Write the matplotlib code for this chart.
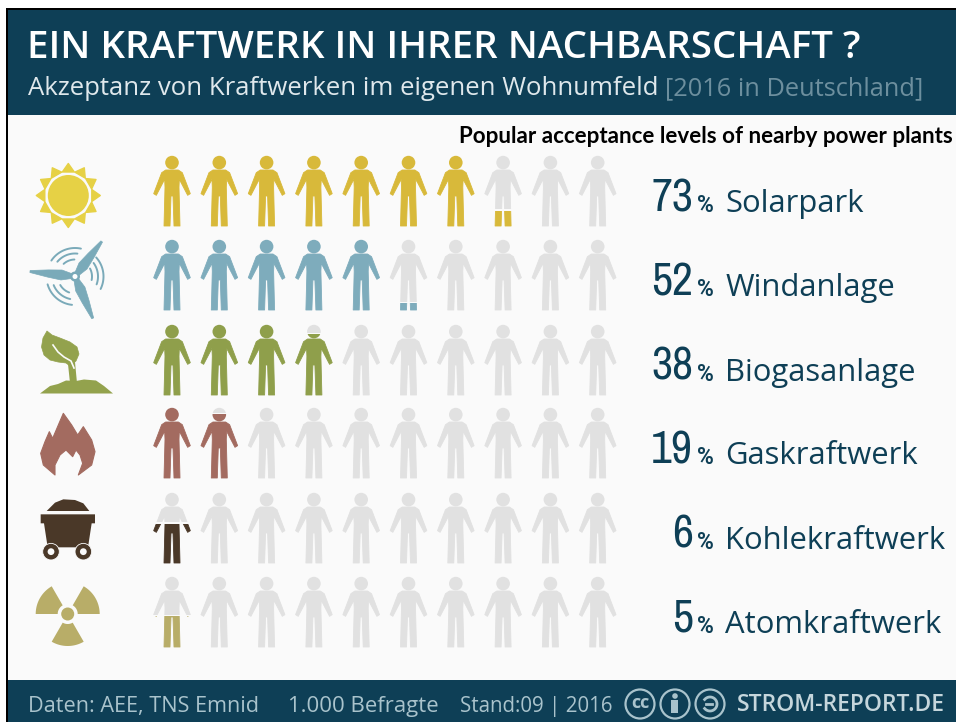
import numpy as np
import matplotlib
matplotlib.use("Agg")
import matplotlib.pyplot as plt
from matplotlib.patches import Polygon, Circle, Rectangle
from matplotlib import font_manager as fm

# ---- data ----
categories = ["Solarpark", "Windanlage", "Biogasanlage", "Gaskraftwerk", "Kohlekraftwerk", "Atomkraftwerk"]
percent = [73, 52, 38, 19, 6, 5]
full_figures = [7, 5, 3, 1, 0, 0]
partial_fill = [0.24, 0.12, 0.88, 0.93, 0.58, 0.46]
colors = ["#d8b93a", "#7eacbc", "#8f9f4b", "#a36b60", "#4a3828", "#b8ad68"]
title = "EIN KRAFTWERK IN IHRER NACHBARSCHAFT ?"
subtitle = "Akzeptanz von Kraftwerken im eigenen Wohnumfeld"
subtitle_tail = "[2016 in Deutschland]"
overlay = "Popular acceptance levels of nearby power plants"
footer = ["Daten: AEE, TNS Emnid", "1.000 Befragte", "Stand:09 | 2016"]
footer_sizes = [15.55, 15.9, 14.8]
brand = "STROM-REPORT.DE"

# ---- layout ----
NAVY = "#0e3f56"
PALE = "#a9c3cc"
GREY = "#e1e1e1"
BG = "#fafafa"
W, H = 956, 722
row_top = [156, 240, 325, 408, 493, 577]
col_x0, col_dx, n_col = 172, 47.3, 10
SANS = "Open Sans"
installed = sorted({f.name for f in fm.fontManager.ttflist})
NARROW = next((n for n in installed if "narrow" in n.lower() or "condensed" in n.lower()), "Roboto")

fig = plt.figure(figsize=(W / 100, H / 100), dpi=100, facecolor="white")
ax = fig.add_axes([0, 0, 1, 1])
ax.set_xlim(0, W); ax.set_ylim(H, 0); ax.axis("off")

ax.add_patch(Rectangle((6, 8), W - 6, H - 8, fc="black", ec="none", zorder=0))
ax.add_patch(Rectangle((8, 10), W - 8, H - 10, fc=BG, ec="none", zorder=0.5))
ax.add_patch(Rectangle((8, 10), W - 8, 104.5, fc=NAVY, ec="none", zorder=1))
ax.add_patch(Rectangle((8, 680), W - 8, 42, fc=NAVY, ec="none", zorder=1))

# person outline, in pixels relative to head-top centre
PERSON = np.array([(78, 60), (116, 60), (128, 68), (152, 131), (144, 136), (119, 88), (118, 112), (121, 228),
                   (103, 228), (100, 138), (94, 138), (91, 228), (73, 228), (76, 112), (75, 88),
                   (50, 136), (42, 131), (66, 68)], float)
PERSON = (PERSON - [97, 18]) / 3
HEIGHT = 70.5


def person(cx, top, color, clip_y0, clip_y1):
    if clip_y1 <= clip_y0:
        return
    clip = Rectangle((cx - 30, clip_y0), 60, clip_y1 - clip_y0, transform=ax.transData)
    body = Polygon(PERSON + [cx, top], closed=True, fc=color, ec=color, lw=0.6, joinstyle="round", zorder=3)
    head = Circle((cx, top + 6.6), 6.8, fc=color, ec="none", zorder=3)
    for p in (body, head):
        ax.add_patch(p)
        p.set_clip_path(clip)


for r, top in enumerate(row_top):
    for c in range(n_col):
        cx = col_x0 + col_dx * c
        bottom = top + HEIGHT + 1
        if c < full_figures[r]:
            person(cx, top, colors[r], top - 2, bottom)
        elif c == full_figures[r]:
            y = bottom - partial_fill[r] * HEIGHT
            person(cx, top, GREY, top - 2, y - 1.2)
            person(cx, top, colors[r], y, bottom)
        else:
            person(cx, top, GREY, top - 2, bottom)

# ---- icons ----
# sun
sx, sy = 68.3, 195.5
ax.add_patch(Circle((sx, sy), 20.5, fc="#e6d145", ec="none", zorder=3))
for a in np.arange(0, 360, 30):
    t = np.deg2rad(a)
    u = np.array([np.cos(t), np.sin(t)]); v = np.array([-u[1], u[0]])
    c0 = np.array([sx, sy])
    ax.add_patch(Polygon([c0 + 23.5 * u + 6 * v, c0 + 32 * u, c0 + 23.5 * u - 6 * v],
                         fc="#e6d145", ec="#e6d145", lw=1, joinstyle="round", zorder=3))

# wind turbine
hub = np.array([75, 276.5])
wcol = "#7aaab9"
blade_s = np.array([0.08, 0.3, 0.6, 1.0])
blade_w = np.array([2.5, 5.0, 3.6, 1.0])
for tip in [(-45, -5), (26.7, -35), (17.7, 41.8)]:
    tip = np.array(tip, float)
    L = np.hypot(*tip); u = tip / L; v = np.array([-u[1], u[0]])
    side1 = [hub + s * L * u + w * v for s, w in zip(blade_s, blade_w)]
    side2 = [hub + s * L * u - w * v for s, w in zip(blade_s[::-1], blade_w[::-1])]
    ax.add_patch(Polygon(side1 + side2, fc=wcol, ec=wcol, lw=0.5, joinstyle="round", zorder=3))
ax.add_patch(Circle(hub, 5, fc=wcol, ec="none", zorder=4))
ax.add_patch(Circle(hub, 2.5, fc="white", ec="none", zorder=4))
for a0 in (-112, -8, 130):
    for rad, half in ((17, 20), (23, 28), (28.5, 34)):
        t = np.deg2rad(np.linspace(a0 - half, a0 + half, 30))
        ax.plot(hub[0] + rad * np.cos(t), hub[1] + rad * np.sin(t), color=wcol, lw=1.4,
                solid_capstyle="round", zorder=3)

# plant
gcol = "#93a24d"
ground = [(40, 393.5), (46, 389), (50, 386), (58, 384), (66, 380.5), (76, 381), (84, 379.5), (96, 380.5), (104, 386), (113, 393.5)]
ax.add_patch(Polygon(ground, fc=gcol, ec="none", zorder=3))
ax.add_patch(Polygon([(68, 364), (75, 362), (77, 383), (70, 383)], fc=gcol, ec="none", zorder=3))
leaf = [(47, 331), (43, 338), (41.5, 347), (44, 355), (50, 360), (58, 362), (66, 363), (70, 366), (76, 361),
        (79, 354), (77, 347), (70, 342), (60, 338), (52, 335)]
ax.add_patch(Polygon(leaf, fc=gcol, ec=gcol, lw=0.5, joinstyle="round", zorder=3))
ax.plot([53, 58, 64, 71, 74], [345, 352, 357, 361, 368], color=BG, lw=1.2, zorder=4)

# flame
flame = np.array([(190, 40), (215, 75), (233, 105), (250, 80), (275, 120), (285, 155), (275, 195), (235, 225),
                  (248, 190), (240, 165), (228, 150), (218, 170), (198, 150), (180, 165), (165, 195), (165, 225),
                  (130, 195), (122, 160), (135, 125), (148, 95), (158, 115), (175, 75)], float) / 3 + [0, 400]
ax.add_patch(Polygon(flame, fc="#a36b60", ec="#a36b60", lw=0.8, joinstyle="round", zorder=3))

# coal cart
ccol = "#4a3828"
def z3(pts):
    return np.array(pts, float) / 3 + [0, 400]
ax.add_patch(Polygon(z3([(140, 333), (165, 308), (190, 298), (225, 300), (250, 310), (268, 333)]), fc=ccol, ec="none", zorder=3))
ax.add_patch(Polygon(z3([(122, 343), (285, 343), (285, 370), (275, 370), (264, 442), (143, 442), (132, 370), (122, 370)]), fc=ccol, ec="none", zorder=3))
for wx in (153, 250):
    c = z3([(wx, 455)])[0]
    ax.add_patch(Circle(c, 8.3, fc=ccol, ec=BG, lw=0.6, zorder=4))
    ax.add_patch(Circle(c, 3.4, fc=BG, ec="none", zorder=5))

# radiation sign
rc = np.array([67.7, 614])
rcol = "#b8ad68"
ax.add_patch(Circle(rc, 6.5, fc=rcol, ec="none", zorder=3))
for a0 in (0, 120, 240):
    t2 = np.deg2rad(np.linspace(a0, a0 + 60, 30))
    outer = np.c_[rc[0] + 32 * np.cos(t2), rc[1] - 32 * np.sin(t2)]
    inner = np.c_[rc[0] + 10 * np.cos(t2[::-1]), rc[1] - 10 * np.sin(t2[::-1])]
    ax.add_patch(Polygon(np.r_[outer, inner], fc=rcol, ec="none", zorder=3))

# ---- text ----
tkw = dict(va="baseline", zorder=6)
ax.text(27, 58, title, color="white", family=SANS, fontsize=27.7, fontweight="semibold", **tkw)
ax.text(28, 95, subtitle, color="#dfe8ec", family=SANS, fontsize=18.5, **tkw)
ax.text(665, 95, subtitle_tail, color="#6d8f9e", family=SANS, fontsize=18.3, **tkw)
ax.text(953, 143, overlay, color="black", family="Lato", fontsize=16.1, fontweight="bold", ha="right", **tkw)

for top, name, v in zip(row_top, categories, percent):
    base = top + 56
    ax.text(693, base - 1, str(v), color=NAVY, family=NARROW, fontsize=33, ha="right", **tkw)
    ax.text(714, base, "%", color=NAVY, family="Roboto", fontsize=16.5, fontweight="bold", ha="right", **tkw)
    ax.text(725.5, base, name, color=NAVY, family=SANS, fontsize=22.3, **tkw)

for x, s, fs in zip((28, 288, 460), footer, footer_sizes):
    ax.text(x, 712, s, color=PALE, family=SANS, fontsize=fs, **tkw)
ax.text(737, 711, brand, color="#c5d6dc", family=SANS, fontsize=16.5, fontweight="semibold", **tkw)
for x in (640, 675, 710):
    ax.add_patch(Circle((x, 704), 14.5, fc="none", ec=PALE, lw=1.6, zorder=6))
ax.text(640, 703, "cc", color=PALE, family=SANS, fontsize=13, fontweight="bold", ha="center", va="center", zorder=6)
ax.add_patch(Circle((675, 696), 2.8, fc=PALE, ec="none", zorder=6))
ax.add_patch(Rectangle((671.5, 700), 7, 13, fc=PALE, ec="none", zorder=6))
t = np.deg2rad(np.linspace(-140, 140, 40))
ax.plot(710 + 7 * np.cos(t), 704 + 7 * np.sin(t), color=PALE, lw=2, zorder=6)
ax.plot([706, 712], [704, 704], color=PALE, lw=2, zorder=6)

fig.savefig("out.png", dpi=100, facecolor="white")
